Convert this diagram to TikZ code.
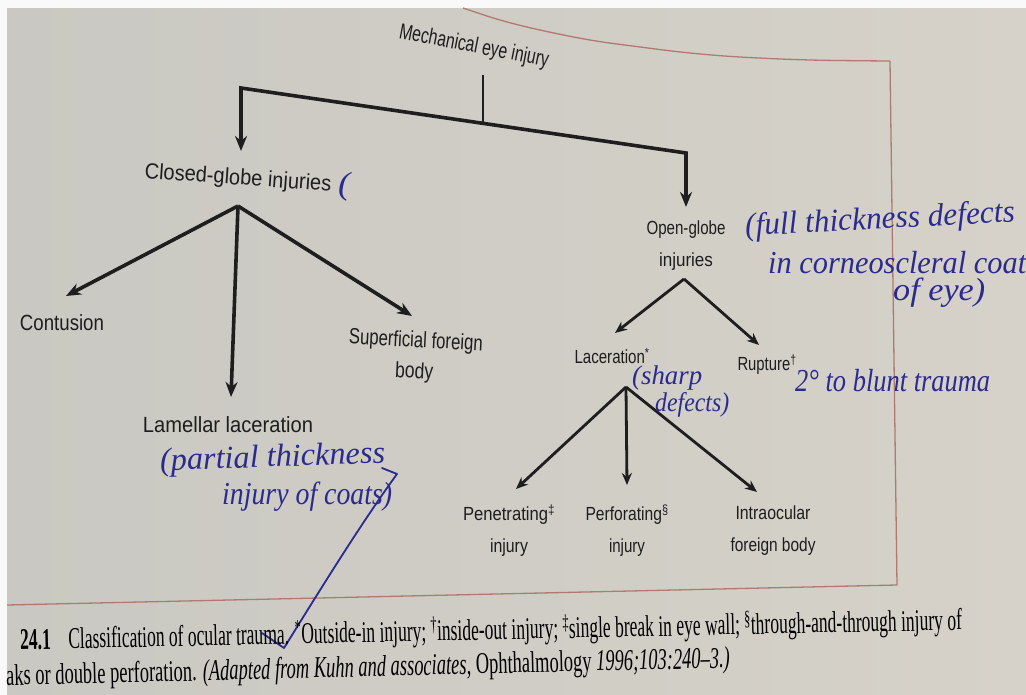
\documentclass[tikz,border=0pt]{standalone}
\usepackage{fontspec}
\usepackage{graphicx}
\setmainfont{Liberation Serif}
\newfontfamily\labfont{Liberation Sans}
\newfontfamily\handfont{Liberation Serif}
\usetikzlibrary{arrows.meta}
\definecolor{paperL}{HTML}{C9C8C2}
\definecolor{paperR}{HTML}{D6D2C9}
\definecolor{ink}{HTML}{1E1E1E}
\definecolor{pen}{HTML}{2B2A8E}
\definecolor{rule}{HTML}{B07A70}
\newcommand\fw[2]{\resizebox{#1pt}{\height}{#2}}
\begin{document}
\begin{tikzpicture}[x=1pt,y=-1pt,
  lab/.style={font=\labfont\fontsize{22}{31}\selectfont, text=ink, inner sep=0pt, align=center},
  labs/.style={font=\labfont\fontsize{19}{32}\selectfont, text=ink, inner sep=0pt, align=center},
  hand/.style={font=\handfont\itshape\fontsize{32}{34}\selectfont, text=pen, inner sep=0pt, anchor=west},
  captext/.style={font=\fontsize{30}{32}\selectfont, text=black, inner sep=0pt, anchor=west},
  bigarrow/.style={draw=ink, line width=3.6pt, -{Stealth[length=15pt,width=12pt]}},
  smallarrow/.style={draw=ink, line width=2.8pt, -{Stealth[length=12pt,width=10pt]}},
  framerule/.style={draw=rule, line width=1.3pt}]
\useasboundingbox (0,0) rectangle (1026,695);
% paper
\shade[left color=paperL, right color=paperR] (0,0) rectangle (1026,695);
\fill[white!95!gray] (0,0) rectangle (1026,8);
\fill[white!95!gray] (0,8) rectangle (7,695);
% frame rules
\draw[framerule] plot[smooth, tension=0.6] coordinates {(463,8) (500,20) (540,30) (590,40) (640,47) (690,53) (740,57) (810,60) (890,61)};
\draw[framerule, line join=miter] (890,61) -- (897,585) -- (7,605);
% labels
\node[lab, rotate=-11] (mech) at (474,47) {\fw{152}{Mechanical eye injury}};
\node[lab, rotate=-4] (closed) at (238,179) {\fw{187}{Closed-globe injuries}};
\node[lab] (contusion) at (62,323) {\fw{84}{Contusion}};
\node[lab, rotate=-3] (superficial) at (415,357) {\fw{134}{Superficial foreign}\\\fw{38}{body}};
\node[lab] (lamellar) at (228,425) {\fw{170}{Lamellar laceration}};
\node[labs] (open) at (686,246) {\fw{79}{Open-globe}\\\fw{54}{injuries}};
\node[labs] (laceration) at (612,356) {\fw{75}{Laceration\textsuperscript{*}}};
\node[labs] (rupture) at (767,365) {\fw{59}{Rupture\textsuperscript{†}}};
\node[labs] (penetrating) at (509,531) {\fw{92}{Penetrating\textsuperscript{‡}}\\\fw{38}{injury}};
\node[labs] (perforating) at (627,531) {\fw{83}{Perforating\textsuperscript{§}}\\\fw{36}{injury}};
\node[labs] (intraocular) at (773,531) {\fw{75}{Intraocular}\\\fw{85}{foreign body}};
% connector points
\coordinate (stemtop) at (483,75);
\coordinate (stembot) at (483,124);
\coordinate (bl) at (241,88);
\coordinate (br) at (686,153);
\coordinate (closedtip) at (241,151);
\coordinate (opentip) at (686,207);
\coordinate (capex) at (238,206);
\coordinate (contip) at (66,296);
\coordinate (lamtip) at (231,397);
\coordinate (suptip) at (412,316);
\coordinate (oapex) at (684,279);
\coordinate (lactip) at (615,333);
\coordinate (ruptip) at (759,345);
\coordinate (lapex) at (626,387);
\coordinate (pentip) at (516,489);
\coordinate (pertip) at (627,485);
\coordinate (inttip) at (757,492);
% connectors
\draw[draw=ink, line width=2.4pt] (stemtop) -- (stembot);
\draw[draw=ink, line width=3.6pt, line join=miter] (closedtip) ++(0,-50) -- (bl) -- (br) -- ++(0,10);
\draw[bigarrow] (bl) -- (closedtip);
\draw[bigarrow] (br) -- (opentip);
\draw[bigarrow] (capex) -- (contip);
\draw[bigarrow] (capex) -- (lamtip);
\draw[bigarrow] (capex) -- (suptip);
\draw[smallarrow] (oapex) -- (lactip);
\draw[smallarrow] (oapex) -- (ruptip);
\draw[smallarrow] (lapex) -- (pentip);
\draw[smallarrow] (lapex) -- (pertip);
\draw[smallarrow] (lapex) -- (inttip);
% handwritten notes
\node[hand] (paren) at (338,187) {\fw{12}{(}};
\node[hand, rotate=3] (full) at (745,228) {\fw{270}{(full thickness defects}};
\node[hand] (corneo) at (768,263) {\fw{258}{in corneoscleral coat}};
\node[hand] (ofeye) at (893,293) {\fw{92}{of eye)}};
\node[hand, font=\handfont\itshape\fontsize{27}{30}\selectfont] (sharp) at (632,378) {\fw{70}{(sharp}};
\node[hand, font=\handfont\itshape\fontsize{27}{30}\selectfont] (defects) at (655,405) {\fw{74}{defects)}};
\node[hand] (blunt) at (795,381) {\fw{195}{2\textdegree{} to blunt trauma}};
\node[hand, rotate=2] (partial) at (160,463) {\fw{225}{(partial thickness}};
\node[hand] (coats) at (222,497) {\fw{170}{injury of coats)}};
\coordinate (tickA) at (262,633);
\coordinate (tickB) at (284,648);
\coordinate (tickC) at (397,474);
\coordinate (tickD) at (382,468);
\draw[draw=pen, line width=1.8pt, line cap=round, line join=round] (tickA) -- (tickB) .. controls (320,590) and (360,525) .. (tickC) -- (tickD);
% caption
\node[captext, rotate=1.2] (cap1) at (20,641) {\fw{942}{\textbf{24.1}\quad Classification of ocular trauma. \textsuperscript{*}Outside-in injury; \textsuperscript{†}inside-out injury; \textsuperscript{‡}single break in eye wall; \textsuperscript{§}through-and-through injury of}};
\node[captext, rotate=1.4] (cap2) at (6,678) {\fw{724}{aks or double perforation. \textit{(Adapted from Kuhn and associates,} Ophthalmology \textit{1996;103:240--3.)}}};
\end{tikzpicture}
\end{document}
